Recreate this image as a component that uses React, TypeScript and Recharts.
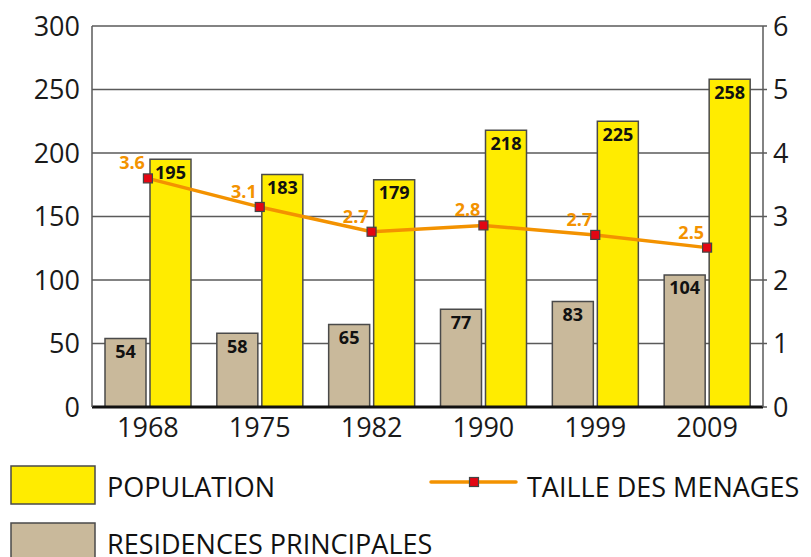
import React from 'react';
import {
  ComposedChart,
  Bar,
  Line,
  XAxis,
  YAxis,
  CartesianGrid,
  LabelList,
  Legend,
} from 'recharts';

const years = ['1968', '1975', '1982', '1990', '1999', '2009'];
const population = [195, 183, 179, 218, 225, 258];
const residences = [54, 58, 65, 77, 83, 104];
const taille = [3.6, 3.15, 2.76, 2.86, 2.71, 2.51];
const tailleLabels = ['3.6', '3.1', '2.7', '2.8', '2.7', '2.5'];
const leftTicks = [0, 50, 100, 150, 200, 250, 300];
const rightTicks = [0, 1, 2, 3, 4, 5, 6];

const data = years.map((y, i) => ({
  year: y,
  population: population[i],
  residences: residences[i],
  taille: taille[i],
  tailleLabel: tailleLabels[i],
}));

const FONT = "'Open Sans', 'DejaVu Sans', sans-serif";
const YELLOW = '#FFEC00';
const TAN = '#C9B99B';
const ORANGE = '#F39200';
const RED = '#E30613';
const BAR_STROKE = '#4a4a4a';

const BarValueLabel = (props: any) => {
  const { x, y, width, value } = props;
  return (
    <text
      x={x + width / 2}
      y={y + 19.5}
      textAnchor="middle"
      fontFamily={FONT}
      fontWeight={700}
      fontSize={18}
      fill="#111"
    >
      {value}
    </text>
  );
};

const LineValueLabel = (props: any) => {
  const { x, y, index } = props;
  return (
    <text
      x={x - 3}
      y={y - 9}
      textAnchor="end"
      fontFamily={FONT}
      fontWeight={700}
      fontSize={18}
      fill={ORANGE}
    >
      {tailleLabels[index]}
    </text>
  );
};

const SquareDot = (props: any) => {
  const { cx, cy, index } = props;
  return (
    <rect
      key={`dot-${index}`}
      x={cx - 4.5}
      y={cy - 4.5}
      width={9}
      height={9}
      fill={RED}
      stroke="#444"
      strokeWidth={1.2}
    />
  );
};

const LegendContent = () => (
  <svg width={811} height={97} style={{ display: 'block' }}>
    <rect x={11} y={6} width={84} height={38} fill={YELLOW} stroke={BAR_STROKE} strokeWidth={1.5} />
    <text x={107} y={37} fontFamily={FONT} fontSize={27} fill="#111">
      POPULATION
    </text>
    <rect x={11} y={63} width={84} height={40} fill={TAN} stroke={BAR_STROKE} strokeWidth={1.5} />
    <text x={107} y={94} fontFamily={FONT} fontSize={27} fill="#111">
      RESIDENCES PRINCIPALES
    </text>
    <line x1={431} y1={22} x2={516} y2={22} stroke={ORANGE} strokeWidth={3.5} strokeLinecap="round" />
    <rect x={469.5} y={17.5} width={9} height={9} fill={RED} stroke="#444" strokeWidth={1.2} />
    <text x={527} y={37} fontFamily={FONT} fontSize={27} fill="#111">
      TAILLE DES MENAGES
    </text>
  </svg>
);

export default function App() {
  const tickStyle = { fontFamily: FONT, fontSize: 27, fill: '#1a1a1a' };
  return (
    <div style={{ position: 'absolute', left: 0, top: 0, width: 811, height: 557, background: '#fff' }}>
      <ComposedChart
        width={811}
        height={557}
        data={data}
        margin={{ top: 26, right: 0, bottom: 110, left: 0 }}
        barGap={4}
      >
        <CartesianGrid vertical={false} horizontal={true} stroke="#5a5a5a" strokeWidth={1.5} yAxisId="left" />
        <XAxis
          dataKey="year"
          xAxisId={0}
          height={40}
          tickLine={false}
          axisLine={{ stroke: '#111', strokeWidth: 3 }}
          tick={tickStyle}
          tickMargin={5}
          interval={0}
        />
        <YAxis
          yAxisId="left"
          orientation="left"
          width={92}
          domain={[0, 300]}
          ticks={leftTicks}
          interval={0}
          tickLine={false}
          axisLine={{ stroke: '#5a5a5a', strokeWidth: 1.5 }}
          tick={tickStyle}
          tickMargin={6}
        />
        <YAxis
          yAxisId="right"
          orientation="right"
          width={48}
          domain={[0, 6]}
          ticks={rightTicks}
          interval={0}
          tickLine={{ stroke: '#5a5a5a', strokeWidth: 1.5 }}
          tickSize={4}
          axisLine={{ stroke: '#5a5a5a', strokeWidth: 1.5 }}
          tick={tickStyle}
          tickMargin={6}
        />
        <Bar
          yAxisId="left"
          dataKey="residences"
          barSize={41}
          fill={TAN}
          stroke={BAR_STROKE}
          strokeWidth={1.5}
          isAnimationActive={false}
        >
          <LabelList dataKey="residences" content={BarValueLabel} />
        </Bar>
        <Bar
          yAxisId="left"
          dataKey="population"
          barSize={41}
          fill={YELLOW}
          stroke={BAR_STROKE}
          strokeWidth={1.5}
          isAnimationActive={false}
        >
          <LabelList dataKey="population" content={BarValueLabel} />
        </Bar>
        <Line
          yAxisId="right"
          dataKey="taille"
          stroke={ORANGE}
          strokeWidth={3.5}
          dot={SquareDot}
          activeDot={false}
          isAnimationActive={false}
        >
          <LabelList dataKey="taille" content={LineValueLabel} />
        </Line>
        <Legend
          layout="horizontal"
          verticalAlign="middle"
          align="center"
          content={LegendContent}
          wrapperStyle={{ top: 460, left: 0, width: 811, height: 97 }}
        />
      </ComposedChart>
    </div>
  );
}
